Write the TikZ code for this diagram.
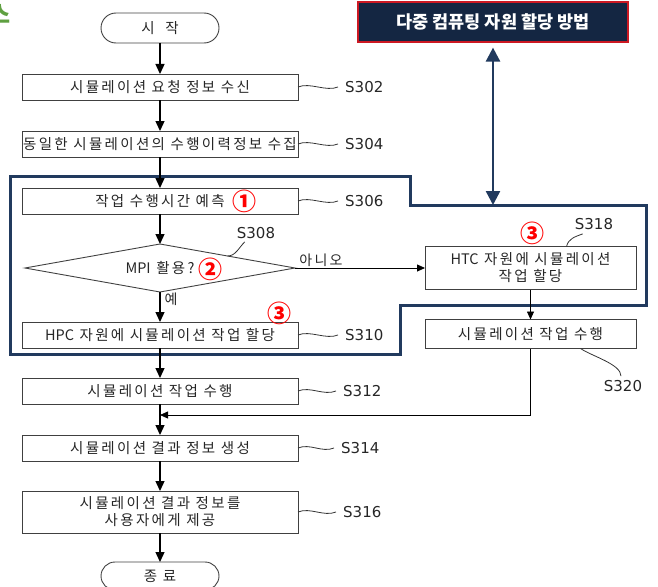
\documentclass[tikz,border=0pt]{standalone}
\usepackage{fontspec}
\newfontfamily\kr[LetterSpace=16]{Noto Sans CJK KR}
\newfontfamily\krplain{Noto Sans CJK KR}
\newfontfamily\lat{DejaVu Sans}
\usetikzlibrary{shapes.geometric,shapes.misc,arrows.meta,positioning}
\definecolor{navy}{RGB}{33,58,94}
\definecolor{titlebg}{RGB}{20,38,66}
\definecolor{titleline}{RGB}{205,25,35}
\definecolor{greenhead}{RGB}{95,160,65}
\tikzstyle{box} = [draw=black!75, line width=0.9pt, rectangle, minimum width=276pt, minimum height=26pt, inner sep=0pt, outer sep=0pt, align=center, text=black!85, font=\kr\fontsize{14.5}{17}\selectfont]
\tikzstyle{sidebox} = [box, minimum width=211pt]
\tikzstyle{term} = [draw=black!75, line width=0.9pt, rounded rectangle, minimum width=118pt, minimum height=30pt, inner sep=0pt, outer sep=0pt, text=black!85, font=\kr\fontsize{14.5}{17}\selectfont]
\tikzstyle{decision} = [draw=black!75, line width=0.9pt, diamond, shape aspect=5.6, minimum width=270pt, minimum height=48pt, inner sep=0pt, outer sep=0pt, text=black!85, font=\kr\fontsize{14.5}{17}\selectfont]
\tikzstyle{steplab} = [inner sep=0pt, text=black!85, font=\lat\fontsize{15}{18}\selectfont]
\tikzstyle{numcirc} = [inner sep=0pt, text=red, font=\krplain\bfseries\fontsize{24}{24}\selectfont]
\tikzstyle{squig} = [draw=black!80, line width=0.8pt]
\tikzstyle{flow} = [->, line width=1.3pt]
\tikzstyle{sideflow} = [->, line width=0.8pt, >={Triangle[width=7pt,length=8pt]}]
\tikzstyle{frameline} = [draw=navy, line width=3pt, line join=miter]
\tikzstyle{dblarrow} = [{Triangle[width=14pt,length=14pt]}-{Triangle[width=14pt,length=14pt]}, draw=navy, fill=navy, line width=2.5pt]
\tikzstyle{titlebox} = [draw=titleline, fill=titlebg, line width=1.2pt, rectangle, minimum width=270pt, minimum height=40pt, inner sep=0pt, text=white, font=\krplain\bfseries\fontsize{17.5}{19}\selectfont]

\begin{document}
\begin{tikzpicture}[x=1pt, y=-1pt, >={Triangle[width=9pt,length=10pt]}, node distance=30pt]
\useasboundingbox (0,0) rectangle (658,586);
\clip (0,0) rectangle (658,586);
 % nodes
    \node [anchor=east, inner sep=0pt, text=greenhead, font=\krplain\bfseries\fontsize{24}{24}\selectfont] (head) at (11,14) {스};
    \node [titlebox] (title) at (493,22) {다중 컴퓨팅 자원 할당 방법};
    \node [term] (start) at (160,28) {시\hspace{5pt} 작};
    \node [box, below=31pt of start] (s302) {시뮬레이션 요청 정보 수신};
    \node [box, below=31pt of s302] (s304) {\makebox[250pt][c]{동일한 시뮬레이션의 수행이력정보 수집}};
    \node [box, below=31pt of s304] (s306) {작업 수행시간 예측};
    \node [decision, below=30pt of s306] (dia) {{\krplain MPI} 활용?};
    \node [box, below=30pt of dia] (s310) {{\krplain HPC} 자원에 시뮬레이션 작업 할당};
    \node [box, below=30pt of s310] (s312) {시뮬레이션 작업 수행};
    \node [box, below=31pt of s312] (s314) {시뮬레이션 결과 정보 생성};
    \node [box, minimum height=42pt, below=30pt of s314] (s316) {시뮬레이션 결과 정보를\\사용자에게 제공};
    \node [term, minimum height=28pt, below=29pt of s316] (stop) {종 료};
    \node [sidebox, minimum height=43pt, right=130pt of dia] (htc) {{\krplain HTC} 자원에 시뮬레이션\\작업 할당};
    \node [sidebox, minimum height=29pt, below=30pt of htc] (s320) {시뮬레이션 작업 수행};
    \coordinate (merge) at (160,415);
    \coordinate (frametop) at (493,205);
    % step labels
    \node [steplab, right=47pt of s302] (s302l) {S302};
    \node [steplab, right=47pt of s304] (s304l) {S304};
    \node [steplab, right=47pt of s306] (s306l) {S306};
    \node [steplab] (s308l) at (256,233) {S308};
    \node [steplab, right=47pt of s310] (s310l) {S310};
    \node [steplab, right=45pt of s312] (s312l) {S312};
    \node [steplab, right=43pt of s314] (s314l) {S314};
    \node [steplab, right=45pt of s316] (s316l) {S316};
    \node [steplab] (s318l) at (594,224) {S318};
    \node [steplab] (s320l) at (623,386) {S320};
    % circled marks
    \node [numcirc] (m1) at (244,201) {①};
    \node [numcirc] (m2) at (210,269) {②};
    \node [numcirc] (m3a) at (279,313) {③};
    \node [numcirc] (m3b) at (532,233) {③};
    % frame
    \draw [frameline] (10,176) -- (410,176) -- (410,205) -- (646,205) -- (646,305) -- (400,305) -- (400,354) -- (10,354) -- cycle;
    % edges
    \draw [flow] (start) -- (s302);
    \draw [flow] (s302) -- (s304);
    \draw [flow] (s304) -- (s306);
    \draw [flow] (s306) -- (dia);
    \draw [flow] (dia) -- node[right, pos=0.25, inner sep=4pt, text=black!85, font=\kr\fontsize{14}{14}\selectfont] {예} (s310);
    \draw [flow] (s310) -- (s312);
    \draw [flow] (s312) -- (s314);
    \draw [flow] (s314) -- (s316);
    \draw [flow] (s316) -- (stop);
    \draw [sideflow] (dia) -- node[above, pos=0.2, inner sep=1pt, text=black!85, font=\kr\fontsize{14}{14}\selectfont] {아니오} (htc);
    \draw [sideflow] (htc) -- (s320);
    \draw [sideflow] (s320) |- (merge);
    \draw [dblarrow, shorten <=5pt] (title) -- (frametop);
    % squiggles
    \draw [squig] (s302.east) .. controls +(12,-5) and +(-12,5) .. ([xshift=-7pt]s302l.west);
    \draw [squig] (s304.east) .. controls +(12,-5) and +(-12,5) .. ([xshift=-7pt]s304l.west);
    \draw [squig] (s306.east) .. controls +(12,-5) and +(-12,5) .. ([xshift=-7pt]s306l.west);
    \draw [squig] (s310.east) .. controls +(12,-5) and +(-12,5) .. ([xshift=-7pt]s310l.west);
    \draw [squig] (s312.east) .. controls +(12,-5) and +(-12,5) .. ([xshift=-7pt]s312l.west);
    \draw [squig] (s314.east) .. controls +(12,-5) and +(-12,5) .. ([xshift=-7pt]s314l.west);
    \draw [squig] (s316.east) .. controls +(12,-5) and +(-12,5) .. ([xshift=-7pt]s316l.west);
    \draw [squig] (dia.north east) .. controls +(8,0) and +(-6,6) .. ([shift={(8,3)}]s308l.south west);
    \draw [squig] ([xshift=36pt]htc.north) .. controls +(2,-8) and +(-8,3) .. ([shift={(8,4)}]s318l.south west);
    \draw [squig] ([xshift=50pt]s320.south) .. controls +(12,8) and +(0,-12) .. ([shift={(-2,-4)}]s320l.north);
\end{tikzpicture}
\end{document}
